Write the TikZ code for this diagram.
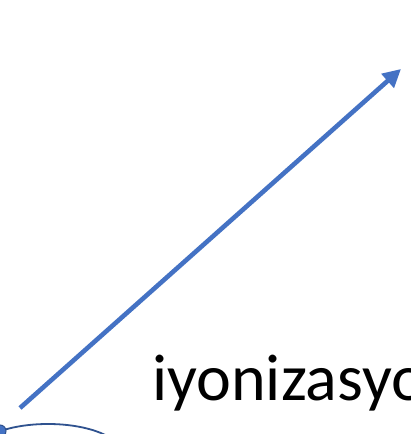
\documentclass[tikz,border=0pt]{standalone}
\usepackage{fontspec}
\setmainfont{Carlito}
\usetikzlibrary{arrows.meta}
\definecolor{accent}{RGB}{68,114,196}
\definecolor{darkacc}{RGB}{47,82,143}
\tikzset{
  bigarrow/.style={draw=accent, line width=4.6pt, -{Triangle[length=18pt,width=18pt]}},
  label/.style={font=\fontsize{66}{78}\selectfont, text=black, inner sep=0pt, anchor=base west},
  orbit/.style={draw=darkacc, line width=1.8pt}
}
\begin{document}
\begin{tikzpicture}[x=1pt,y=1pt]
\useasboundingbox (0,0) rectangle (410,434);
\clip (0,0) rectangle (410,434);
\fill[white] (0,0) rectangle (410,434);
\coordinate (start) at (20,26);
\coordinate (tip) at (401,365);
\draw[bigarrow] (start) -- (tip);
\node[label] (txt) at (152,33) {iyonizasyon};
\draw[orbit] (48,-20) ellipse [x radius=74, y radius=30];
\node[circle, fill=accent, draw=darkacc, line width=1pt, minimum size=12pt, inner sep=0pt] (dot) at (0,3) {};
\end{tikzpicture}
\end{document}
